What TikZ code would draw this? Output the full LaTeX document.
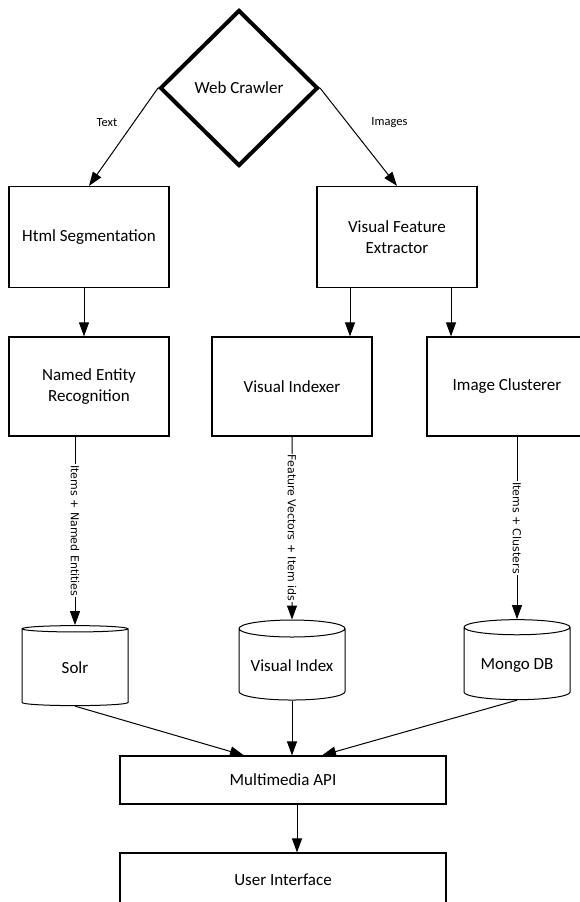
\documentclass[tikz,border=0pt]{standalone}
\usepackage{fontspec}
\setmainfont{Carlito}
\newfontfamily\lblfont{DejaVu Sans}
\usetikzlibrary{shapes.geometric,arrows.meta}
\tikzset{
box/.style={draw,line width=1.2pt,minimum width=160pt,minimum height=101pt,align=center,font=\fontsize{17}{21}\selectfont},
db/.style={draw,cylinder,shape border rotate=90,aspect=0.19,minimum width=106pt,minimum height=80pt,line width=1pt,font=\fontsize{17}{21}\selectfont},
arr/.style={-{Triangle[length=14pt,width=10pt]},line width=1pt},
lbl/.style={font=\lblfont\fontsize{11}{13}\selectfont,fill=white,inner sep=1pt,rotate=-90},
tag/.style={font=\fontsize{12.5}{14}\selectfont,inner sep=0pt}
}

\begin{document}
\begin{tikzpicture}[x=1pt,y=-1pt]
\useasboundingbox (0,0) rectangle (580,902);
\node[diamond,draw,line width=4pt,minimum width=158pt,minimum height=156pt,font=\fontsize{17}{21}\selectfont] (crawler) at (239,88) {Web Crawler};
\node[box] (htmlseg) at (89,237) {Html Segmentation};
\node[box] (vfe) at (397,237) {Visual Feature\\Extractor};
\node[box,minimum height=99pt] (ner) at (89,386.5) {Named Entity\\Recognition};
\node[box,minimum height=99pt] (vindexer) at (292,386.5) {Visual Indexer};
\node[box,minimum height=99pt] (clusterer) at (507,386.5) {Image Clusterer};
\node[db] (solr) at (75,668) {Solr};
\node[db] (vindex) at (292,666) {Visual Index};
\node[db] (mongo) at (517,665) {Mongo DB};
\node[box,minimum width=326pt,minimum height=48pt] (api) at (283,780) {Multimedia API};
\node[box,minimum width=326pt,minimum height=54pt] (ui) at (283,880) {User Interface};
\draw[arr] (crawler.west) -- (htmlseg.north) node[tag,pos=.35,left=16pt] {Text};
\draw[arr] (crawler.east) -- (vfe.north) node[tag,pos=.35,right=24pt] {Images};
\draw[arr] ([xshift=-5pt]htmlseg.south) -- ([xshift=-5pt]ner.north);
\draw[arr] (vfe.south -| 350,0) -- (vindexer.north -| 350,0);
\draw[arr] (vfe.south -| 451,0) -- (clusterer.north -| 451,0);
\draw[arr] (ner.south -| solr.north) -- (solr.north) node[lbl,midway] {Items + Named Entities};
\draw[arr] (vindexer.south) -- (vindex.north) node[lbl,midway] {Feature Vectors + Item ids};
\draw[arr] (clusterer.south -| mongo.north) -- (mongo.north) node[lbl,midway] {Items + Clusters};
\draw[arr] (solr.south) -- ([xshift=-39pt]api.north);
\draw[arr] (vindex.south) -- (vindex.south |- api.north);
\draw[arr] (mongo.south) -- ([xshift=39pt]api.north);
\draw[arr] ([xshift=14pt]api.south) -- ([xshift=14pt]ui.north);
\end{tikzpicture}
\end{document}
